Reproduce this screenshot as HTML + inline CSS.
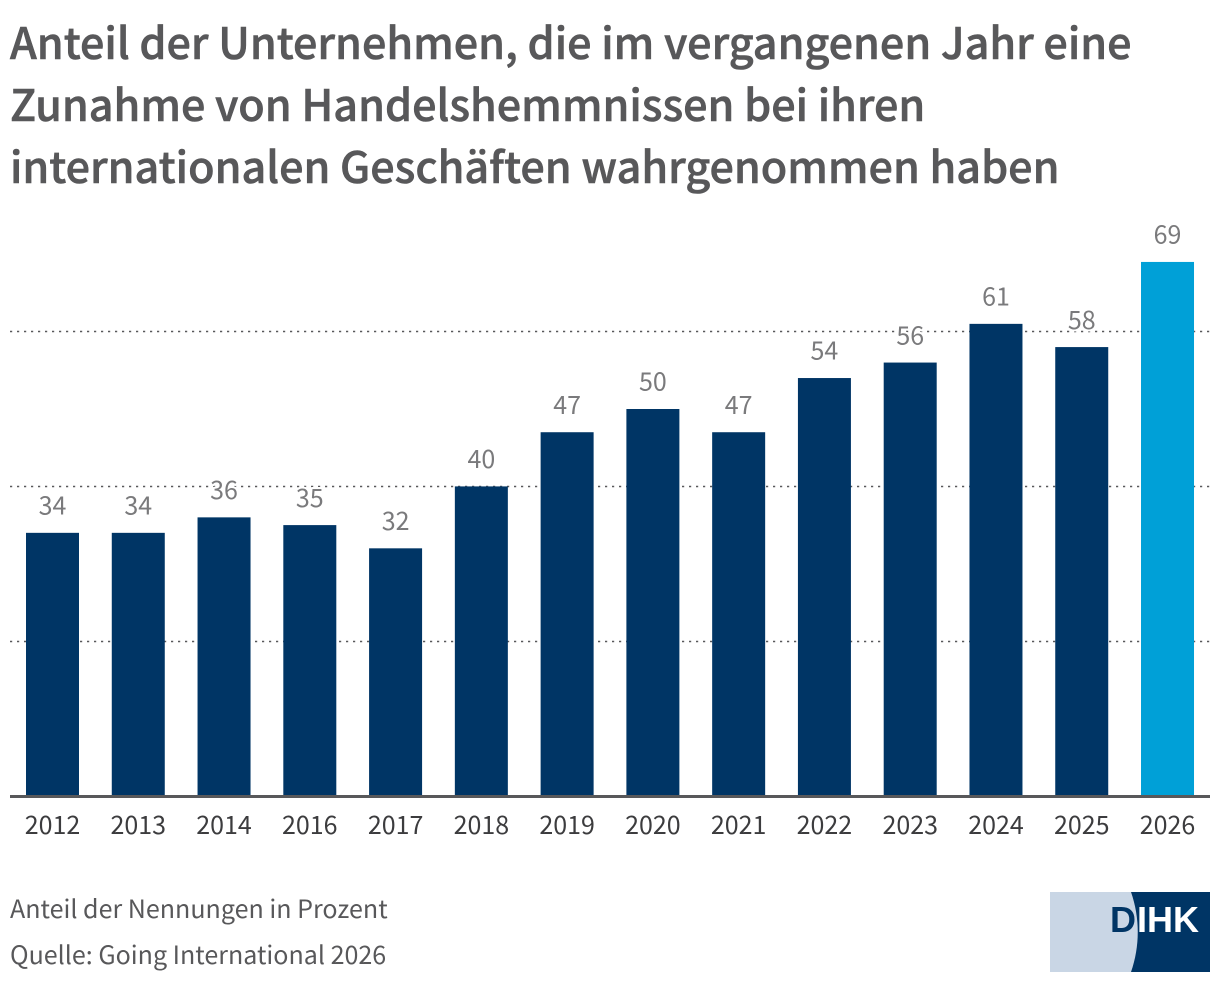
<!DOCTYPE html>
<html lang="de">
<head>
<meta charset="utf-8">
<title>Handelshemmnisse</title>
<style>
html,body{margin:0;padding:0;background:#fff;}
body{width:1220px;height:982px;overflow:hidden;position:relative;font-family:"Noto Sans CJK SC","Liberation Sans",sans-serif;}
#chart-title{position:absolute;left:10px;top:10px;margin:0;font-size:43.1px;line-height:62px;font-weight:500;color:#58585a;white-space:nowrap;-webkit-text-stroke:0.6px #58585a;}
.note{position:absolute;left:10px;font-size:25.05px;line-height:34px;color:#58585a;white-space:nowrap;font-weight:400;}
svg{position:absolute;left:0;top:0;}
svg text{font-family:"Noto Sans CJK SC","Liberation Sans",sans-serif;}
</style>
</head>
<body>
<h1 id="chart-title">Anteil der Unternehmen, die im vergangenen Jahr eine<br>Zunahme von Handelshemmnissen bei ihren<br>internationalen Geschäften wahrgenommen haben</h1>
<svg id="chart" width="1220" height="982" viewBox="0 0 1220 982"></svg>
<div class="note" style="top:891px">Anteil der Nennungen in Prozent</div>
<div class="note" style="top:937px">Quelle: Going International 2026</div>
<svg width="160" height="80" viewBox="0 0 160 80" style="left:1050px;top:892px">
  <rect x="0" y="0" width="160" height="80" fill="#003565"></rect>
  <path d="M0 0H81C90 26 90 54 81 80H0Z" fill="#c9d6e5"></path>
  <text x="60" y="40" style="font-family:'Liberation Sans',sans-serif" font-weight="700" font-size="36" fill="#003565">D</text>
  <text x="87" y="40" style="font-family:'Liberation Sans',sans-serif" font-weight="700" font-size="36" fill="#ffffff">IHK</text>
</svg>
<script>
const categories = ['2012','2013','2014','2016','2017','2018','2019','2020','2021','2022','2023','2024','2025','2026'];
const values = [34,34,36,35,32,40,47,50,47,54,56,61,58,69];
const gridTicks = [20,40,60];
const highlightCategory = '2026';

const NS = 'http://www.w3.org/2000/svg';
const svg = document.getElementById('chart');
const plotLeft = 10, plotRight = 1210, baseY = 796, unit = 7.74;
const firstBar = 26, step = 85.77, barW = 53;
const yScale = v => baseY - v * unit;
const xScale = i => firstBar + i * step;

function mk(tag, attrs, parent) {
  const el = document.createElementNS(NS, tag);
  for (const k in attrs) el.setAttribute(k, attrs[k]);
  parent.appendChild(el);
  return el;
}

gridTicks.forEach(t => {
  const line = mk('line', {x1: plotLeft, x2: plotRight, y1: Math.floor(yScale(t)) + 0.5, y2: Math.floor(yScale(t)) + 0.5, stroke: '#58585a', 'stroke-width': 1.5, 'stroke-dasharray': '2.2 4.8'}, svg);
  
  
});

categories.forEach((c, i) => {
  const v = values[i];
  const y = yScale(v);
  const bar = mk('rect', {x: xScale(i), y: y, width: barW, height: baseY - y, fill: c === highlightCategory ? '#00a0d7' : '#003565'}, svg);
  
  

  const val = mk('text', {x: xScale(i) + barW / 2, y: y - 18.3, 'text-anchor': 'middle', 'font-size': 25, fill: '#7a7a7c', stroke: '#fff', 'stroke-width': 4, 'paint-order': 'stroke', 'stroke-linejoin': 'round'}, svg);
  val.textContent = v;
  
  

  const cat = mk('text', {x: xScale(i) + barW / 2, y: 834, 'text-anchor': 'middle', 'font-size': 25, fill: '#3c3c3e'}, svg);
  cat.textContent = c;
  
  
});

const axis = mk('rect', {x: plotLeft, y: 795, width: plotRight - plotLeft, height: 3, fill: '#58585a'}, svg);


</script>
</body>
</html>
